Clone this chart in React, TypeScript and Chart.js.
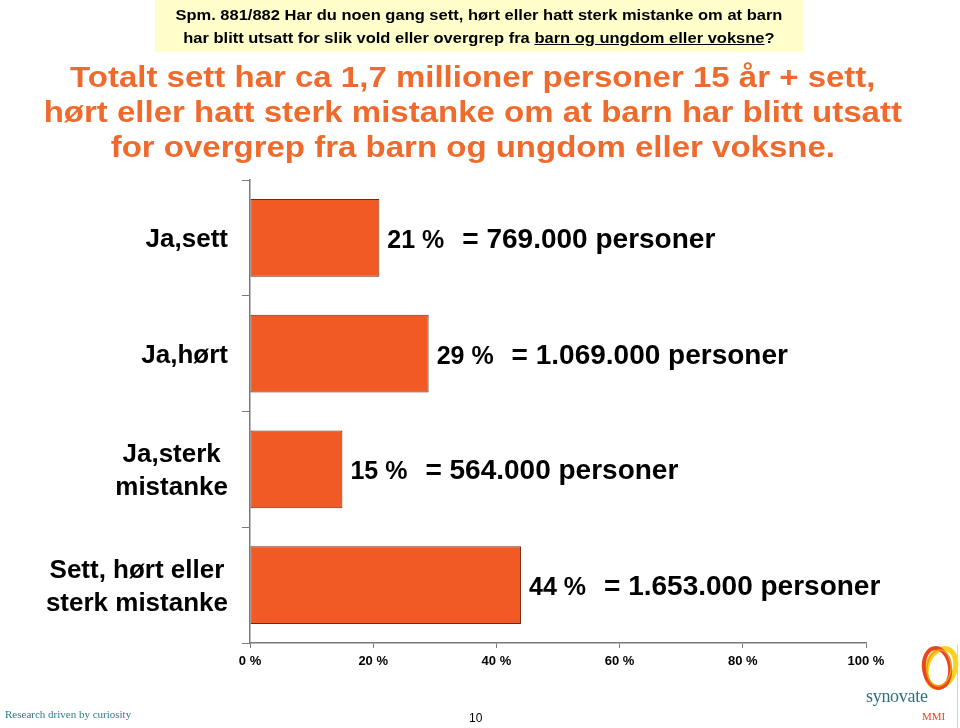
import React, { useEffect, useRef } from 'react';
import { Chart, registerables } from 'chart.js';

Chart.register(...registerables);

const categories: string[][] = [
  ['Ja,sett'],
  ['Ja,hørt'],
  ['Ja,sterk', 'mistanke'],
  ['Sett, hørt eller', 'sterk mistanke'],
];
const percentValues = [21, 29, 15, 44];
const personLabels = [
  '= 769.000 personer',
  '= 1.069.000 personer',
  '= 564.000 personer',
  '= 1.653.000 personer',
];
const xTickValues = [0, 20, 40, 60, 80, 100];

const headerLines = [
  'Spm. 881/882 Har du noen gang sett, hørt eller hatt sterk mistanke om at barn',
  'har blitt utsatt for slik vold eller overgrep fra ',
];
const headerUnderlined = 'barn og ungdom eller voksne';
const titleLines = [
  'Totalt sett har ca 1,7 millioner personer 15 år + sett,',
  'hørt eller hatt sterk mistanke om at barn har blitt utsatt',
  'for overgrep fra barn og ungdom eller voksne.',
];

const FONT = 'Arial, "Liberation Sans", Helvetica, sans-serif';
const SERIF = '"Liberation Serif", "DejaVu Serif", serif';
const AXIS = '#7a7a7a';

const labelPlugin = {
  id: 'customLabels',
  afterDraw(chart: any) {
    const ctx = chart.ctx;
    const meta = chart.getDatasetMeta(0);
    const yScale = chart.scales.y;
    const area = chart.chartArea;
    ctx.save();
    ctx.fillStyle = '#000';
    ctx.textBaseline = 'alphabetic';
    meta.data.forEach((bar: any, i: number) => {
      const y = bar.y;
      const pct = percentValues[i] + ' %';
      ctx.font = `bold 25px ${FONT}`;
      ctx.textAlign = 'left';
      const x0 = bar.x + 8;
      ctx.fillText(pct, x0, y + 10);
      const w = ctx.measureText(pct).width;
      ctx.font = `bold 28px ${FONT}`;
      ctx.fillText(personLabels[i], x0 + w + 18, y + 10);
    });
    ctx.font = `bold 26px ${FONT}`;
    ctx.textAlign = 'center';
    categories.forEach((lines, i) => {
      const y = yScale.getPixelForValue(i);
      const maxW = Math.max(...lines.map((l) => ctx.measureText(l).width));
      const cx = area.left - 22 - maxW / 2;
      const lh = 33;
      lines.forEach((l, j) => {
        ctx.fillText(l, cx, y + 9 + (j - (lines.length - 1) / 2) * lh);
      });
    });
    ctx.restore();
  },
};

function ChartCanvas() {
  const ref = useRef<HTMLCanvasElement | null>(null);
  useEffect(() => {
    if (!ref.current) return;
    const chart = new Chart(ref.current, {
      type: 'bar',
      data: {
        labels: categories.map((c) => c.join(' ')),
        datasets: [
          {
            data: percentValues,
            backgroundColor: '#F15A24',
            borderColor: '#6e2a10',
            borderWidth: 1,
            borderSkipped: false,
            categoryPercentage: 1,
            barPercentage: 0.67,
          },
        ],
      },
      options: {
        indexAxis: 'y',
        animation: false,
        responsive: true,
        maintainAspectRatio: false,
        layout: { padding: { left: 242, right: 94, top: 180, bottom: 50 } },
        plugins: { legend: { display: false }, tooltip: { enabled: false } },
        scales: {
          x: {
            min: 0,
            max: 100,
            afterBuildTicks: (s: any) => {
              s.ticks = xTickValues.map((v) => ({ value: v }));
            },
            afterFit: (s: any) => {
              s.height = 35;
              s.paddingLeft = 0;
              s.paddingRight = 0;
            },
            ticks: {
              callback: (v: any) => v + ' %',
              font: { family: FONT, size: 13, weight: 'bold' },
              color: '#000',
              padding: 6,
              maxRotation: 0,
            },
            grid: { drawOnChartArea: false, drawTicks: true, tickLength: 5, color: AXIS },
            border: { color: AXIS, width: 1.5 },
          },
          y: {
            afterFit: (s: any) => {
              s.width = 8;
              s.paddingTop = 0;
              s.paddingBottom = 0;
            },
            ticks: { display: false },
            grid: { drawOnChartArea: false, drawTicks: true, tickLength: 8, color: AXIS, offset: true },
            border: { color: AXIS, width: 1.5 },
          },
        },
      },
      plugins: [labelPlugin],
    });
    return () => chart.destroy();
  }, []);
  return <canvas ref={ref} />;
}

export default function App() {
  return (
    <div style={{ position: 'absolute', left: 0, top: 0, width: 960, height: 728, background: '#fff', overflow: 'hidden', fontFamily: FONT }}>
      <div style={{ position: 'absolute', left: 0, top: 0, width: 960, height: 728 }}>
        <ChartCanvas />
      </div>
      <div style={{ position: 'absolute', left: 155, top: 0, width: 648, height: 52, background: '#FFFFCC' }} />
      <div
        style={{
          position: 'absolute', left: 155, top: 0, width: 648, height: 52,
          textAlign: 'center', fontWeight: 'bold', fontSize: 15, lineHeight: '23px', paddingTop: 3, boxSizing: 'border-box', color: '#000',
          transform: 'scaleX(1.1)', transformOrigin: '325px 0',
        }}
      >
        <div style={{ whiteSpace: 'nowrap' }}>{headerLines[0]}</div>
        <div style={{ whiteSpace: 'nowrap' }}>
          {headerLines[1]}
          <span style={{ textDecoration: 'underline' }}>{headerUnderlined}</span>?
        </div>
      </div>
      <div
        style={{
          position: 'absolute', left: 0, top: 59, width: 946, textAlign: 'center', color: '#EF6A2D',
          fontWeight: 'bold', fontSize: 30, lineHeight: '35px', transform: 'scaleX(1.1)', transformOrigin: '475px 0',
        }}
      >
        {titleLines.map((t, i) => (
          <div key={i} style={{ whiteSpace: 'nowrap' }}>{t}</div>
        ))}
      </div>
      <div style={{ position: 'absolute', left: 5, top: 708, fontFamily: SERIF, fontSize: 11, color: '#2f7c86' }}>
        Research driven by curiosity
      </div>
      <div style={{ position: 'absolute', left: 469, top: 711, fontSize: 12, color: '#000' }}>10</div>
      <svg style={{ position: 'absolute', left: 914, top: 644, width: 46, height: 50 }} viewBox="0 0 46 50">
        <ellipse cx="27" cy="24" rx="14" ry="20" fill="none" stroke="#F8D21C" strokeWidth="5" transform="rotate(20 27 24)" />
        <ellipse cx="23" cy="24" rx="13" ry="20" fill="none" stroke="#E8461E" strokeWidth="4" transform="rotate(-8 23 24)" />
        <ellipse cx="25" cy="24" rx="12" ry="18" fill="none" stroke="#F39A1E" strokeWidth="1.5" transform="rotate(5 25 24)" />
      </svg>
      <div style={{ position: 'absolute', left: 866, top: 686, fontFamily: SERIF, fontSize: 18, color: '#2f6f7f', letterSpacing: -0.3 }}>
        synovate
      </div>
      <div style={{ position: 'absolute', left: 922, top: 710, fontFamily: SERIF, fontSize: 11, color: '#E8461E' }}>
        MMI
      </div>
      <div style={{ position: 'absolute', left: 957, top: 645, width: 1, height: 83, background: '#d0d0d0' }} />
    </div>
  );
}
